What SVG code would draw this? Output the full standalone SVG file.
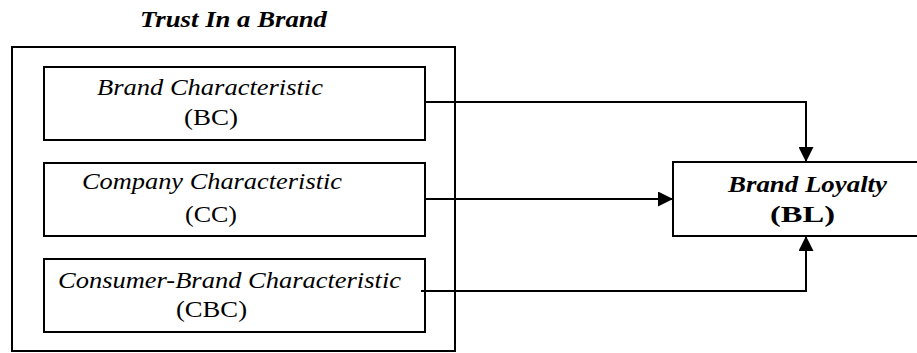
<svg xmlns="http://www.w3.org/2000/svg" width="917" height="353" viewBox="0 0 917 353">
<defs>
<style>
.box{fill:#fff;stroke:#000;stroke-width:2}
.t{font-family:"Liberation Serif","Times New Roman",serif;font-size:24px;fill:#000}
.i{font-style:italic}
.b{font-weight:bold}
.c{fill:none;stroke:#000;stroke-width:2}
</style>
<marker id="ah" markerWidth="15" markerHeight="15" viewBox="0 0 15 15" refX="15" refY="7.5" orient="auto" markerUnits="userSpaceOnUse">
<path d="M0,0 L15,7.5 L0,15 Z" fill="#000"/>
</marker>
</defs>
<rect width="917" height="353" fill="#fff"/>
<g id="title">
<text class="t i b" x="140" y="27" textLength="187" lengthAdjust="spacingAndGlyphs">Trust In a Brand</text>
</g>
<g id="trust">
<rect class="box" x="12" y="47" width="443" height="304"/>
</g>
<g id="bc">
<rect class="box" x="44" y="67" width="381" height="73"/>
<text class="t i" x="97" y="95" textLength="226" lengthAdjust="spacingAndGlyphs">Brand Characteristic</text>
<text class="t" x="184" y="125" textLength="54" lengthAdjust="spacingAndGlyphs">(BC)</text>
</g>
<g id="cc">
<rect class="box" x="44" y="163" width="381" height="73"/>
<text class="t i" x="82" y="189" textLength="260" lengthAdjust="spacingAndGlyphs">Company Characteristic</text>
<text class="t" x="185" y="222" textLength="52" lengthAdjust="spacingAndGlyphs">(CC)</text>
</g>
<g id="cbc">
<rect class="box" x="44" y="259" width="381" height="73"/>
<text class="t i" x="58" y="288" textLength="343" lengthAdjust="spacingAndGlyphs">Consumer-Brand Characteristic</text>
<text class="t" x="176" y="317" textLength="71" lengthAdjust="spacingAndGlyphs">(CBC)</text>
</g>
<g id="bl">
<rect class="box" x="673" y="162" width="270" height="74"/>
<text class="t i b" x="728" y="192" textLength="159" lengthAdjust="spacingAndGlyphs">Brand Loyalty</text>
<text class="t b" x="770" y="222" textLength="65" lengthAdjust="spacingAndGlyphs">(BL)</text>
</g>
<g id="connectors">
<path class="c" d="M425,102 H806 V162" marker-end="url(#ah)"/>
<path class="c" d="M425,199 H673" marker-end="url(#ah)"/>
<path class="c" d="M421,291 H806 V236" marker-end="url(#ah)"/>
</g>
</svg>
